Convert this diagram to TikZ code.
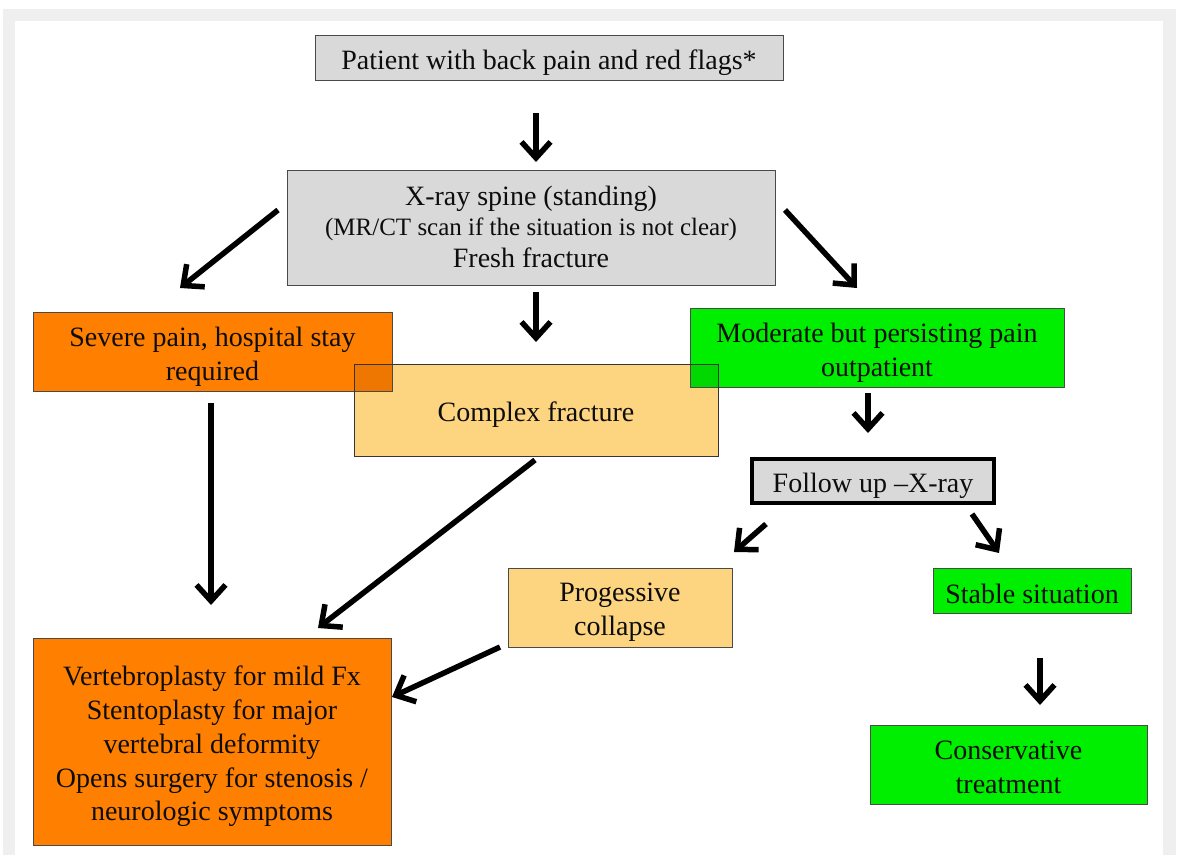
\documentclass[tikz,border=0pt]{standalone}
\usepackage{fontspec}
\setmainfont{Liberation Serif}
\usetikzlibrary{arrows.meta,calc}
\definecolor{boxgray}{HTML}{D9D9D9}
\definecolor{boxorange}{HTML}{FF8000}
\definecolor{boxlight}{HTML}{FDD47F}
\definecolor{boxgreen}{HTML}{00EE00}
\definecolor{framegray}{HTML}{EFEFEF}
\definecolor{edgegray}{HTML}{4A4A4A}
\definecolor{txt}{HTML}{0D0D0D}
\begin{document}
\begin{tikzpicture}[x=1pt,y=-1pt,
  box/.style={draw=edgegray, line width=1pt, inner sep=0pt, outer sep=0pt},
  lbl/.style={inner sep=0pt, align=center, text=txt, font=\fontsize{28}{33.6}\selectfont},
  arr/.style={line width=5.5pt, -{Straight Barb[length=16pt,width=29pt]}},
]
\useasboundingbox (0,0) rectangle (1179,855);
\fill[white] (0,0) rectangle (1179,855);
\fill[framegray] (3,9) rectangle (1176,855);
\fill[white] (15,21) rectangle (1163,855);

% boxes
\node[box, fill=boxgray, minimum width=468pt, minimum height=45pt] (pat) at (549,57.5) {};
\node[box, fill=boxgray, minimum width=488pt, minimum height=115pt] (xray) at (531,227.5) {};
\node[box, fill=boxorange, minimum width=359pt, minimum height=79pt] (sev) at (212.5,351.5) {};
\node[box, fill=boxgreen, minimum width=374pt, minimum height=79pt] (mod) at (877,347.5) {};
\node[box, fill=boxlight, minimum width=364pt, minimum height=92pt] (cplx) at (536,410) {};
% overlaps of the complex-fracture box with its neighbours
\begin{scope}
  \clip (cplx.south west) rectangle (cplx.north east);
  \fill[boxorange!93!black] (sev.south west) rectangle (sev.north east);
  \fill[boxgreen!91!black] (mod.south west) rectangle (mod.north east);
\end{scope}
\draw[edgegray, line width=1pt] (sev.south west) rectangle (sev.north east);
\draw[edgegray, line width=1pt] (mod.south west) rectangle (mod.north east);
\draw[edgegray!70!black, line width=1pt] (cplx.south west) rectangle (cplx.north east);

\node[box, fill=boxgray, draw=black, line width=4pt, minimum width=242pt, minimum height=44pt] (fu) at (873,481) {};
\node[box, fill=boxlight, minimum width=224pt, minimum height=79pt] (prog) at (620,607.5) {};
\node[box, fill=boxgreen, minimum width=198pt, minimum height=45pt] (stab) at (1032,590.5) {};
\node[box, fill=boxgreen, minimum width=277pt, minimum height=79pt] (cons) at (1008.5,764.5) {};
\node[box, fill=boxorange, minimum width=358pt, minimum height=207pt] (treat) at (212,741.5) {};

% texts
\node[lbl] (patT) at ($(pat.center)+(0,5)$) {Patient with back pain and red flags*};
\node[lbl, anchor=base] (xrayA) at (531,205) {X-ray spine (standing)};
\node[lbl, anchor=base, font=\fontsize{25}{30}\selectfont] (xrayB) at (531,235) {(MR/CT scan if the situation is not clear)};
\node[lbl, anchor=base] (xrayC) at (531,267) {Fresh fracture};
\node[lbl] (sevT) at ($(sev.center)+(0,5)$) {Severe pain, hospital stay\\required};
\node[lbl] (modT) at ($(mod.center)+(0,5)$) {Moderate but persisting pain\\outpatient};
\node[lbl] (cplxT) at ($(cplx.center)+(0,5)$) {Complex fracture};
\node[lbl] (fuT) at ($(fu.center)+(0,5)$) {Follow up –X-ray};
\node[lbl] (progT) at ($(prog.center)+(0,5)$) {Progessive\\collapse};
\node[lbl] (stabT) at ($(stab.center)+(0,3)$) {Stable situation};
\node[lbl] (consT) at ($(cons.center)+(0,3)$) {Conservative\\treatment};
\node[lbl, font=\fontsize{28}{33.8}\selectfont] (treatT) at ($(treat.center)+(0,5)$)
  {Vertebroplasty for mild Fx\\Stentoplasty for major\\vertebral deformity\\Opens surgery for stenosis /\\neurologic symptoms};

% connectors
\draw[arr] ($(pat.south)+(-13,33)$) -- ($(xray.north)+(5,-8)$);
\draw[arr] ($(xray.west)+(-9,-17.5)$) -- ($(sev.north)+(-32.5,-24)$);
\draw[arr] ($(xray.south)+(5,7)$) -- ($(cplx.north)+(0,-22)$);
\draw[arr] ($(xray.east)+(10,-17.5)$) -- ($(mod.north)+(-20,-20)$);
\draw[arr] ($(sev.south)+(-1.5,12)$) -- ($(treat.north)+(-1,-33)$);
\draw[arr] ($(cplx.south)+(-1,4)$) -- ($(treat.north)+(106,-10)$);
\draw[arr] ($(mod.south)+(-9,6)$) -- ($(fu.north)+(-5,-26)$);
\draw[arr] ($(fu.south)+(-107,21)$) -- ($(prog.north)+(114,-16)$);
\draw[arr] ($(fu.south)+(99,11)$) -- ($(stab.north)+(-33,-15)$);
\draw[arr] ($(prog.south west)+(-8,0)$) -- ($(treat.east)+(1,-44.5)$);
\draw[arr] ($(stab.south)+(8,45)$) -- ($(cons.north)+(31.5,-20)$);
\end{tikzpicture}
\end{document}
